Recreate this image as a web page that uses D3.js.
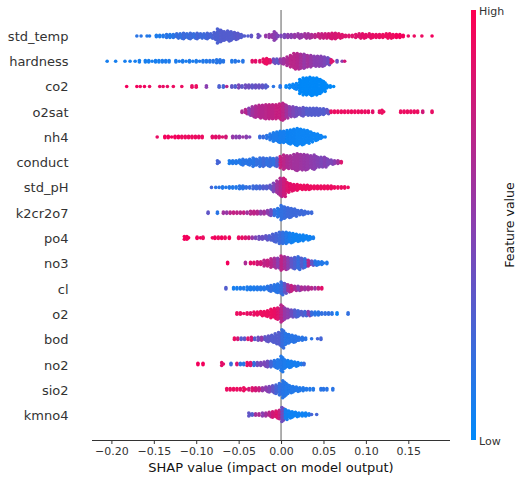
<!DOCTYPE html>
<html><head><meta charset="utf-8">
<style>html,body{margin:0;padding:0;background:#fff}svg{display:block}text{font-family:"DejaVu Sans",sans-serif}</style>
<script src="https://cdn.jsdelivr.net/npm/d3@7"></script></head><body>
<script>
// Each entry: [SHAP value x 1000, dots stacked at that value, feature value %]
const std_temp=[[-170,1,15],[-165,1,15],[-158,1,12],[-155,1,12],[-147,2,10],[-143,2,10],[-139,2,12],[-135,3,15],[-131,3,12],[-127,3,15],[-123,4,20],[-119,4,18],[-115,5,22],[-111,4,20],[-107,5,22],[-103,4,20],[-99,5,25],[-95,4,22],[-91,4,22],[-87,5,25],[-83,4,25],[-79,6,28],[-75,11,28],[-71,9,30],[-67,7,30],[-63,8,30],[-59,7,30],[-55,6,32],[-51,5,33],[-47,3,30],[-43,1,30],[-39,1,30],[-35,2,35],[-27,3,40],[-18,2,55],[-14,3,55],[-10,3,55],[-8,7,50],[-4,2,45],[0,2,45],[4,3,45],[8,3,50],[12,3,50],[16,3,55],[20,4,55],[24,3,55],[28,4,60],[32,4,60],[36,3,65],[40,3,70],[44,4,75],[48,4,75],[52,4,78],[56,4,80],[60,5,82],[64,5,82],[68,4,85],[72,3,85],[76,2,85],[80,2,85],[84,2,85],[88,3,85],[92,4,85],[96,4,88],[100,3,88],[104,4,88],[108,3,90],[112,3,90],[116,3,90],[120,3,92],[124,4,92],[128,4,92],[132,3,92],[136,3,95],[140,3,95],[144,2,95],[150,1,90],[157,1,92],[166,1,92],[178,1,95]];
const hardness=[[-205,1,8],[-195,1,8],[-184,1,8],[-178,1,8],[-172,1,8],[-167,2,8],[-160,2,8],[-156,2,8],[-152,1,8],[-148,2,8],[-144,2,8],[-140,2,10],[-136,2,10],[-132,2,10],[-124,2,10],[-120,1,10],[-116,2,10],[-112,1,10],[-108,2,10],[-104,1,10],[-100,2,10],[-96,1,12],[-92,2,12],[-88,2,12],[-84,2,14],[-80,2,14],[-76,3,14],[-72,3,14],[-68,2,14],[-58,2,12],[-54,2,14],[-50,1,14],[-45,2,14],[-34,2,88],[-30,2,88],[-25,2,88],[-21,4,90],[-17,5,92],[-13,3,85],[-9,4,40],[-5,4,35],[-1,4,55],[3,5,60],[7,7,65],[11,9,70],[15,12,70],[19,12,68],[23,11,62],[27,11,55],[31,9,60],[35,9,55],[39,8,50],[43,8,50],[47,8,48],[51,7,45],[55,6,40],[59,3,85],[66,2,40],[72,1,50],[75,1,80]];
const co2=[[-182,1,95],[-170,1,95],[-166,1,92],[-161,1,95],[-155,1,90],[-143,1,90],[-139,1,90],[-134,1,90],[-127,1,92],[-117,1,92],[-105,2,90],[-100,2,92],[-88,2,50],[-73,2,28],[-68,2,25],[-64,1,70],[-58,2,35],[-54,2,30],[-50,3,45],[-46,2,35],[-42,3,40],[-38,3,40],[-34,3,35],[-30,3,38],[-26,3,38],[-22,3,35],[-18,3,30],[-9,1,15],[-1,2,15],[6,2,3],[10,3,3],[14,4,3],[18,5,3],[22,11,2],[26,13,2],[30,13,2],[34,14,2],[38,13,2],[42,13,2],[46,11,2],[50,8,2],[54,3,2],[58,2,2],[62,1,2]];
const o2sat=[[-46,2,65],[-42,4,68],[-38,6,50],[-34,8,60],[-30,9,65],[-26,10,68],[-22,10,68],[-18,11,70],[-14,11,72],[-10,11,72],[-6,11,75],[-2,12,75],[2,13,70],[6,10,60],[10,8,50],[14,8,45],[18,7,40],[22,6,38],[26,7,35],[30,6,30],[34,6,30],[38,6,30],[42,6,30],[46,5,30],[50,5,30],[54,4,35],[59,2,90],[63,2,92],[67,2,92],[71,2,92],[75,2,92],[79,2,92],[83,2,92],[87,2,92],[91,2,92],[95,2,92],[99,2,92],[103,2,90],[108,2,88],[116,2,90],[119,3,92],[141,2,92],[145,2,92],[149,2,92],[153,2,92],[157,2,92],[161,2,92],[167,2,80],[178,2,90]];
const nh4=[[-146,1,90],[-137,2,95],[-133,2,95],[-129,1,95],[-125,2,95],[-121,2,95],[-117,2,92],[-113,2,92],[-109,2,92],[-105,2,92],[-101,2,92],[-97,2,90],[-93,2,92],[-81,2,88],[-77,2,88],[-73,2,85],[-69,1,85],[-65,2,80],[-57,2,55],[-53,2,50],[-49,2,50],[-45,1,55],[-41,2,50],[-37,1,45],[-25,2,20],[-21,2,20],[-17,3,15],[-13,5,12],[-9,7,10],[-5,8,10],[-1,9,8],[3,9,8],[7,10,6],[11,11,5],[15,12,5],[19,13,4],[23,12,4],[27,11,4],[31,10,4],[35,8,4],[39,6,4],[43,5,4],[47,3,4],[52,1,6]];
const conduct=[[-75,3,25],[-61,3,10],[-57,3,12],[-53,3,12],[-49,4,12],[-45,5,15],[-41,4,15],[-37,5,15],[-33,7,15],[-29,5,18],[-25,7,18],[-21,7,22],[-17,6,18],[-13,7,20],[-9,6,18],[-5,7,30],[-1,9,75],[3,11,70],[7,10,65],[11,10,62],[15,12,60],[19,13,60],[23,12,58],[27,12,56],[31,11,55],[35,10,52],[39,11,50],[43,8,48],[47,8,45],[51,8,48],[55,5,45],[59,4,45],[63,3,50],[67,3,60],[71,2,85]];
const std_pH=[[-82,1,25],[-77,1,15],[-73,1,15],[-69,2,12],[-65,1,12],[-61,2,12],[-57,2,12],[-53,2,12],[-49,3,15],[-45,3,15],[-41,2,18],[-37,2,20],[-33,3,22],[-29,3,22],[-25,3,25],[-21,3,30],[-17,3,30],[-13,4,35],[-9,7,45],[-5,10,60],[-1,14,68],[3,14,78],[7,8,85],[11,6,88],[15,5,88],[19,5,90],[23,4,92],[27,4,92],[31,4,92],[35,3,92],[39,3,92],[43,3,92],[47,3,92],[51,3,92],[55,3,92],[59,3,92],[63,2,92],[67,2,92],[71,2,92],[75,2,92],[79,1,92]];
const k2cr2o7=[[-86,2,35],[-75,2,15],[-68,2,60],[-64,2,55],[-60,2,70],[-56,2,75],[-52,2,72],[-48,2,70],[-44,2,75],[-40,2,60],[-36,3,70],[-32,3,72],[-28,3,68],[-24,3,55],[-20,3,60],[-16,4,50],[-12,5,40],[-8,5,18],[-4,7,15],[0,11,18],[4,9,20],[8,8,22],[12,7,22],[16,6,22],[20,4,22],[24,4,22],[28,3,22],[32,2,22],[36,2,22]];
const po4=[[-114,3,95],[-111,3,95],[-99,2,95],[-95,1,95],[-92,2,92],[-81,1,92],[-78,2,95],[-74,2,92],[-70,2,95],[-66,2,92],[-61,2,95],[-50,2,90],[-46,2,90],[-42,2,85],[-38,2,80],[-34,2,55],[-30,2,45],[-26,3,40],[-22,3,38],[-18,4,35],[-14,4,30],[-10,6,28],[-6,7,25],[-2,9,22],[2,9,18],[6,9,12],[10,8,8],[14,7,6],[18,6,6],[22,5,6],[26,5,6],[30,4,6],[34,3,6],[38,2,8]];
const no3=[[-63,2,95],[-42,2,65],[-36,2,88],[-32,2,88],[-28,3,80],[-24,3,80],[-20,5,72],[-16,5,75],[-12,7,70],[-8,8,62],[-4,8,50],[0,11,72],[4,10,62],[8,9,50],[12,8,35],[16,9,28],[20,10,20],[24,8,30],[28,7,20],[32,5,70],[36,4,35],[40,4,15],[44,3,12],[48,3,12],[54,2,12]];
const cl=[[-65,2,30],[-56,2,8],[-52,2,8],[-48,2,10],[-44,2,10],[-40,3,10],[-36,3,10],[-32,3,10],[-28,3,12],[-24,3,12],[-20,3,12],[-16,4,15],[-12,5,18],[-8,6,15],[-4,7,15],[0,10,20],[4,8,35],[8,6,60],[12,5,75],[16,4,65],[20,4,50],[24,3,65],[28,3,60],[32,3,65],[36,2,70],[40,2,60],[44,2,75],[48,2,88]];
const o2=[[-52,2,92],[-48,2,92],[-44,1,92],[-40,2,90],[-36,2,88],[-32,3,90],[-28,3,92],[-24,4,92],[-20,4,92],[-16,5,92],[-12,7,92],[-8,8,90],[-4,9,85],[0,13,70],[4,9,55],[8,7,50],[12,6,40],[16,6,30],[20,5,25],[24,4,30],[28,4,25],[32,4,50],[36,3,20],[40,3,15],[44,3,15],[48,2,18],[52,2,18],[56,2,18],[60,2,15],[66,2,5],[79,2,18]];
const bod=[[-55,2,92],[-51,2,80],[-47,2,30],[-43,2,35],[-39,2,85],[-35,3,80],[-31,2,30],[-27,3,40],[-23,3,55],[-19,4,35],[-15,5,35],[-11,6,30],[-7,8,30],[-3,10,30],[1,14,20],[5,9,15],[9,7,15],[13,6,15],[17,5,15],[21,3,15],[25,3,15],[29,2,15],[36,1,15],[43,1,25],[47,2,25]];
const no2=[[-98,2,95],[-92,2,95],[-70,3,88],[-59,2,20],[-52,2,85],[-48,2,15],[-44,2,15],[-40,3,90],[-36,3,85],[-32,3,20],[-28,3,40],[-24,3,45],[-20,4,45],[-16,5,40],[-12,5,25],[-8,6,15],[-4,7,12],[0,12,12],[4,7,10],[8,6,8],[12,5,8],[16,4,8],[20,3,8],[24,2,10],[27,2,20]];
const sio2=[[-64,2,92],[-60,2,92],[-56,2,92],[-52,2,92],[-48,2,90],[-44,3,92],[-38,2,80],[-34,3,85],[-30,3,80],[-26,3,75],[-22,3,55],[-18,4,50],[-14,5,45],[-10,6,35],[-6,7,25],[-2,9,18],[2,13,15],[6,9,12],[10,6,12],[14,5,12],[18,4,12],[22,3,12],[26,3,12],[30,2,12],[34,2,12],[38,2,12],[47,2,15],[50,2,15],[54,2,15],[61,2,15]];
const kmno4=[[-38,3,35],[-34,2,30],[-30,2,60],[-26,2,65],[-22,3,50],[-18,3,60],[-14,4,70],[-10,5,80],[-6,6,85],[-2,7,75],[1,11,40],[5,8,8],[9,6,5],[13,5,5],[17,4,5],[21,3,5],[25,3,5],[29,3,5],[33,2,8],[36,1,25],[42,1,25]];

const featureNames=["std_temp","hardness","co2","o2sat","nh4","conduct","std_pH","k2cr2o7","po4","no3","cl","o2","bod","no2","sio2","kmno4"];
const featureRows=[std_temp,hardness,co2,o2sat,nh4,conduct,std_pH,k2cr2o7,po4,no3,cl,o2,bod,no2,sio2,kmno4];
const tickValues=[-0.20,-0.15,-0.10,-0.05,0,0.05,0.10,0.15];

const W=524,H=481,axisY=440,plotTop=10;
const xScale=d3.scaleLinear().domain([-0.2,0.15]).range([111.4,408.3]);
const yScale=d3.scaleLinear().domain([0,15]).range([36,414.5]);
const colorScale=d3.scaleLinear().domain([0,0.5,1]).range(["#008bfb","#8a3fb0","#ff0051"]);
const svg=d3.select("body").append("svg").attr("width",W).attr("height",H);
const defs=svg.append("defs");
defs.append("filter").attr("id","soft").attr("x",0).attr("y",0).attr("width",W).attr("height",H)
  .attr("filterUnits","userSpaceOnUse").append("feGaussianBlur").attr("stdDeviation",0.45);

svg.append("line").attr("x1",xScale(0)).attr("x2",xScale(0)).attr("y1",plotTop).attr("y2",axisY)
  .attr("stroke","#a6a6a6").attr("stroke-width",1.8);

// Swarm layout: stacked dots, alternate layers shifted half a bin so the columns interlock.
const step=1.4, halfBin=0.002;
const dotLayer=svg.append("g").attr("filter","url(#soft)");
featureRows.forEach((row,i)=>{
  const pts=row.flatMap(([s,n,c])=>d3.range(n).map(k=>({s:s/1000+(n>2&&k%2?halfBin:0),c:c/100,o:(k-(n-1)/2)*step})));
  dotLayer.append("g").selectAll("circle").data(pts).join("circle")
    .attr("cx",d=>xScale(d.s)).attr("cy",d=>yScale(i)+d.o).attr("r",1.8).attr("fill",d=>colorScale(d.c));
});

const axis=d3.axisBottom(xScale).tickValues(tickValues).tickSize(4).tickPadding(3)
  .tickFormat(d=>d3.format(".2f")(d).replace("-","\u2212"));
const ag=svg.append("g").attr("transform",`translate(0,${axisY})`).call(axis);
ag.select(".domain").attr("d",`M${92},0.5H${450}`).attr("stroke","#333");
ag.selectAll(".tick line").attr("stroke","#333");
ag.selectAll("text").attr("fill","#333").style("font-size","11px").style("font-family",'"DejaVu Sans"');

svg.append("text").attr("x",271).attr("y",472).attr("text-anchor","middle").attr("fill","#111")
  .style("font-size","13px").text("SHAP value (impact on model output)");

const labelY=d3.scaleLinear().domain([0,15]).range([36,415.5]);
svg.append("g").selectAll("text").data(featureNames).join("text")
  .attr("x",68.5).attr("y",(d,i)=>labelY(i)).attr("dy","0.36em").attr("text-anchor","end")
  .attr("fill","#333").style("font-size","13px").text(d=>d);

const grad=defs.append("linearGradient").attr("id","cb").attr("x1",0).attr("x2",0).attr("y1",1).attr("y2",0);
d3.range(0,1.01,0.1).forEach(t=>grad.append("stop").attr("offset",t).attr("stop-color",colorScale(t)));
svg.append("rect").attr("x",471).attr("y",plotTop).attr("width",5).attr("height",axisY-plotTop).attr("fill","url(#cb)");
svg.append("text").attr("x",479).attr("y",11).attr("dy","0.36em").attr("fill","#333").style("font-size","11px").text("High");
svg.append("text").attr("x",479).attr("y",441).attr("dy","0.36em").attr("fill","#333").style("font-size","11px").text("Low");
svg.append("text").attr("transform","translate(509,225) rotate(-90)").attr("text-anchor","middle").attr("dy","0.36em")
  .attr("fill","#111").style("font-size","12.5px").text("Feature value");
</script></body></html>
